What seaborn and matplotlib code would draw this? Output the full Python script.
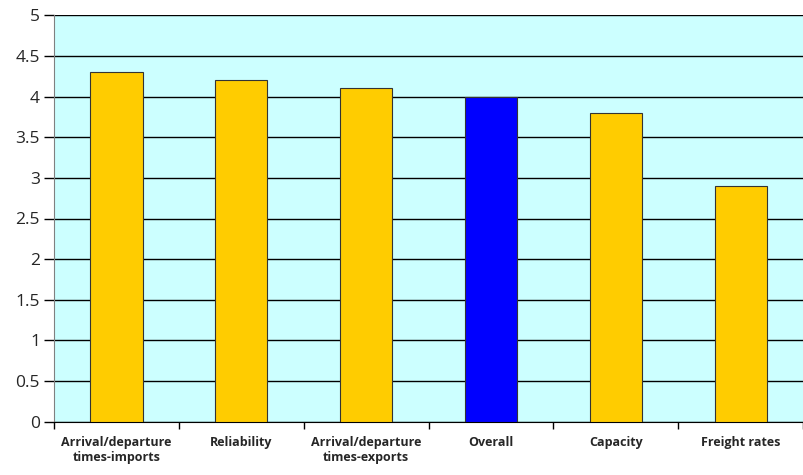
import numpy as np
import pandas as pd
import matplotlib
matplotlib.use('Agg')
import matplotlib.pyplot as plt
from matplotlib.ticker import FixedLocator
import seaborn as sns

categories = ['Arrival/departure\ntimes-imports', 'Reliability', 'Arrival/departure\ntimes-exports',
              'Overall', 'Capacity', 'Freight rates']
scores = [4.3, 4.2, 4.1, 4.0, 3.8, 2.9]
bar_colors = ['#FFCC00', '#FFCC00', '#FFCC00', '#0000FF', '#FFCC00', '#FFCC00']

df = pd.DataFrame({'cat': categories, 'score': scores})

sns.set_style('white')
plt.rcParams['font.family'] = ['Open Sans', 'DejaVu Sans']

fig = plt.figure(figsize=(8.04, 4.75), dpi=100)
ax = fig.add_axes([0.067, 0.112, 0.932, 0.856])
ax.set_facecolor('#CCFFFF')

sns.barplot(data=df, x='cat', y='score', hue='cat', palette=bar_colors, legend=False,
            saturation=1, width=0.42, edgecolor='#333333', linewidth=0.8, ax=ax, zorder=3)

ax.set_ylim(0, 5)
ax.set_yticks(np.arange(0, 5.01, 0.5))
ax.set_yticklabels(['0', '0.5', '1', '1.5', '2', '2.5', '3', '3.5', '4', '4.5', '5'], fontsize=12.5)
ax.yaxis.grid(True, color='black', linewidth=1)
ax.set_axisbelow(True)
ax.set_xlim(-0.5, len(categories) - 0.5)

ax.tick_params(axis='x', which='major', bottom=True, length=0, pad=10)
ax.xaxis.set_minor_locator(FixedLocator(np.arange(-0.5, len(categories), 1)))
ax.tick_params(axis='x', which='minor', bottom=True, length=5, width=1, color='black', direction='out')
ax.tick_params(axis='y', left=True, length=7, width=1, color='black', direction='out', pad=3)
for lbl in ax.get_xticklabels():
    lbl.set_fontsize(9)
    lbl.set_fontweight('bold')

ax.set_xlabel('')
ax.set_ylabel('')
ax.spines['top'].set_visible(False)
ax.spines['right'].set_visible(False)
ax.spines['left'].set_color('#808080')
ax.spines['bottom'].set_color('black')

fig.savefig('out.png', dpi=100, facecolor='white')
